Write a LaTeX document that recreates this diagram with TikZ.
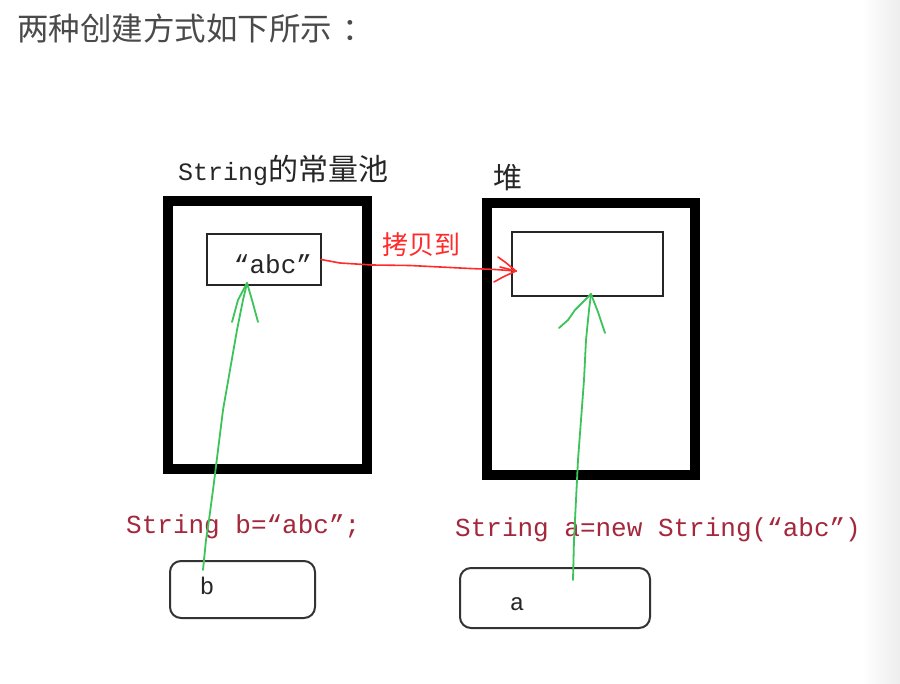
\documentclass[tikz,border=0pt]{standalone}
\usepackage{fontspec}
\setmainfont{Liberation Sans}
\newfontfamily\cjk{Noto Sans CJK SC}
\newfontfamily\mono{Liberation Mono}
\definecolor{titlegray}{HTML}{4A4A4A}
\definecolor{codered}{HTML}{A3283C}
\definecolor{penred}{HTML}{FF2A2A}
\definecolor{pengreen}{HTML}{3CC35A}
\begin{document}
\begin{tikzpicture}[x=1pt,y=-1pt,
  bigbox/.style={draw=black,line width=10pt,inner sep=0pt,outer sep=0pt},
  innerbox/.style={draw=black!85,line width=2pt,inner sep=0pt,outer sep=0pt},
  varbox/.style={draw=black!80,line width=2pt,rounded corners=11pt,inner sep=0pt,outer sep=0pt},
  codetxt/.style={text=codered,font=\mono\fontsize{26}{28}\selectfont,inner sep=0pt},
  labeltxt/.style={text=black!85,inner sep=0pt},
  redpen/.style={draw=penred,line width=1.6pt,line join=round,line cap=round},
  greenpen/.style={draw=pengreen,line width=1.8pt,line join=round,line cap=round}]
\useasboundingbox (0,0) rectangle (900,684);
\fill[white] (0,0) rectangle (900,684);
\shade[left color=white,right color=black!7] (862,0) rectangle (900,684);

% title
\node[anchor=west,inner sep=0pt,text=titlegray,font=\cjk\fontsize{31.5}{33}\selectfont] (title) at (17,28) {两种创建方式如下所示\kern10pt：};

% labels
\node[labeltxt,anchor=west] (poollabel) at (178,170) {{\mono\fontsize{25}{28}\selectfont String}{\cjk\fontsize{30}{32}\selectfont 的常量池}};
\node[labeltxt,anchor=west,font=\cjk\fontsize{29}{31}\selectfont] (heaplabel) at (493,178) {堆};

% big boxes
\node[bigbox,minimum width=199.5pt,minimum height=268pt] (pool) at (267.25,335.5) {};
\node[bigbox,minimum width=208pt,minimum height=272.5pt] (heap) at (591,339.25) {};

% inner boxes
\node[innerbox,minimum width=114pt,minimum height=51pt] (abc) at (264,259.5) {};
\node[codetxt,text=black!85] (abctxt) at (273,264) {“abc”};
\node[innerbox,minimum width=151pt,minimum height=64pt] (obj) at (587.5,264) {};

% code lines
\node[codetxt,anchor=west] (codeb) at (126,527) {String b=“abc”;};
\node[codetxt,anchor=west] (codea) at (455,530) {String a=new String(“abc”)};

% variable boxes
\node[varbox,minimum width=145pt,minimum height=57pt] (varb) at (242.5,589.5) {};
\node[labeltxt,font=\mono\fontsize{24}{26}\selectfont] (btxt) at (207,586) {b};
\node[varbox,minimum width=190pt,minimum height=60pt] (vara) at (555,598) {};
\node[labeltxt,font=\mono\fontsize{24}{26}\selectfont] (atxt) at (517,604) {a};

% red copy arrow
\coordinate (redstart) at (abc.east);
\coordinate (redtip) at (516,271);
\draw[redpen] (redstart) -- (340,263) -- (372,265) -- (410,265.5) -- (440,267) -- (470,268.5) -- (495,269.5) -- (redtip);
\draw[redpen] (redtip) -- (505,262) -- (498,257);
\draw[redpen] (redtip) -- (503,277) -- (494,282);
\draw[redpen] (redtip) -- (500,267);
\node[text=penred,inner sep=0pt,font=\cjk\fontsize{26}{28}\selectfont] (copylabel) at (421,245) {拷贝到};

% green arrows
\coordinate (btail) at (203,570);
\coordinate (btip) at (247,283);
\draw[greenpen] (btail) -- (206,540) -- (209,520) -- (213,490) -- (218,450) -- (223,410) -- (230,370) -- (237,330) -- (243,300) -- (btip);
\draw[greenpen] (btip) -- (238,300) -- (232,322);
\draw[greenpen] (btip) -- (252,300) -- (258,322);

\coordinate (atail) at (573,580);
\coordinate (atip) at (591,294);
\draw[greenpen] (atail) -- (574,540) -- (576,500) -- (578,460) -- (581,420) -- (584,380) -- (586,340) -- (589,310) -- (atip);
\draw[greenpen] (atip) -- (575,310) -- (568,320) -- (559,328);
\draw[greenpen] (atip) -- (598,312) -- (605,333);
\end{tikzpicture}
\end{document}
